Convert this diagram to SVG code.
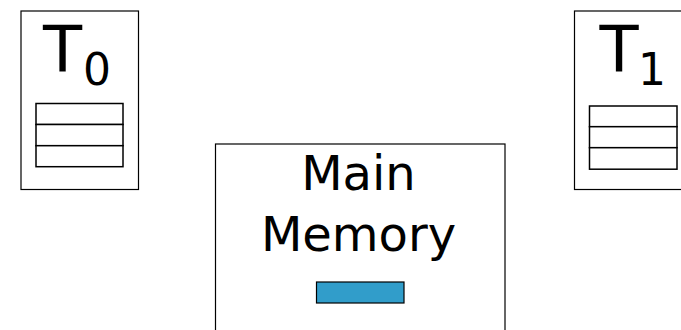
<svg xmlns="http://www.w3.org/2000/svg" width="681" height="330" viewBox="0 0 681 330">
<style>
.box{fill:#fff;stroke:#000;stroke-width:1.2}
.cell{fill:#fff;stroke:#000;stroke-width:1.5}
.t{font-family:"DejaVu Sans",sans-serif;fill:#000}
</style>
<rect width="681" height="330" fill="#fff"/>
<g id="T0">
<rect class="box" x="21" y="11" width="117.5" height="178.5"/>
<text class="t" x="43" y="72" font-size="64">T</text>
<text class="t" x="83" y="85" font-size="44">0</text>
<rect class="cell" x="36" y="103.5" width="87" height="21"/>
<rect class="cell" x="36" y="124.5" width="87" height="21.2"/>
<rect class="cell" x="36" y="145.7" width="87" height="21"/>
</g>
<g id="T1">
<rect class="box" x="574.5" y="11" width="120" height="178.5"/>
<text class="t" x="599.5" y="72" font-size="64">T</text>
<text class="t" x="638" y="85" font-size="44">1</text>
<rect class="cell" x="589.5" y="106" width="87.5" height="20.7"/>
<rect class="cell" x="589.5" y="126.7" width="87.5" height="21"/>
<rect class="cell" x="589.5" y="147.7" width="87.5" height="21.5"/>
</g>
<g id="MainMemory">
<rect class="box" x="215.5" y="144" width="289.5" height="200"/>
<text class="t" x="358.5" y="189.5" font-size="48" text-anchor="middle">Main</text>
<text class="t" x="358.5" y="250.5" font-size="48" text-anchor="middle">Memory</text>
<rect x="316.5" y="282" width="87.5" height="21" fill="#319dca" stroke="#000" stroke-width="1.2"/>
</g>
<g id="connectors"></g>
</svg>
